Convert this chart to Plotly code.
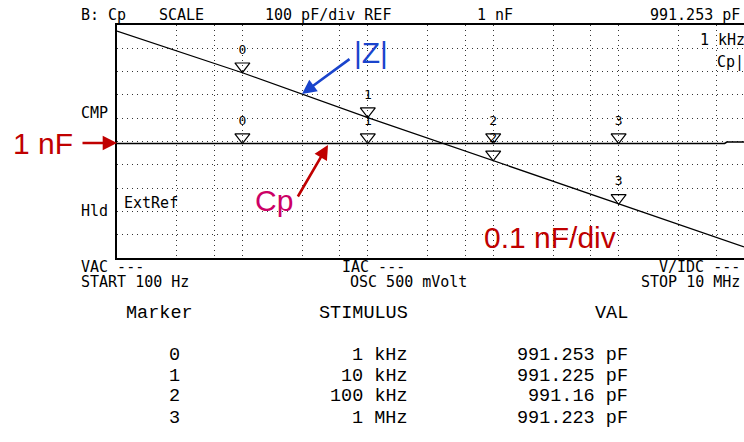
import plotly.graph_objects as go

# ---------------- data ----------------
cp_freq_hz = [100, 300, 1e3, 3e3, 1e4, 3e4, 1e5, 3e5, 1e6, 3e6, 7e6, 7.3e6, 1e7]
cp_pf = [991.30, 991.27, 991.253, 991.24, 991.225, 991.20, 991.16, 991.18, 991.223, 991.40, 991.5, 997.7, 997.7]

z_freq_hz = [100, 1e3, 1e4, 1e5, 1e6, 1e7]
z_ohm = [1.60e6, 1.75e5, 1.62e4, 1.63e3, 1.62e2, 1.70e1]

marker_labels = ["0", "1", "2", "3"]
marker_freq_hz = [1e3, 1e4, 1e5, 1e6]
marker_cp_pf = [991.253, 991.225, 991.16, 991.223]
marker_z_ohm = [1.75e5, 1.62e4, 1.63e3, 1.62e2]

table_stimulus = ["1 kHz", "10 kHz", "100 kHz", "1 MHz"]
table_val = ["991.253 pF", "991.225 pF", "991.16 pF", "991.223 pF"]

grid_freq_hz = [300, 600, 1e3, 3e3, 6e3, 1e4, 3e4, 6e4, 1e5, 3e5, 6e5, 1e6, 3e6, 6e6]

# ---------------- layout geometry ----------------
W, H = 744, 442
L, T, B = 117, 25, 258
R = 744
plot_w, plot_h = R - L, B - T
cp_range = [500, 1500]
z_log_range = [0.973, 6.343]

def px(x):
    return (x - L) / plot_w

def py(y):
    return (B - y) / plot_h

tri_size = 13
tri_px = tri_size / 2
cp_off = tri_px * (cp_range[1] - cp_range[0]) / plot_h
z_fac = 10 ** (tri_px * (z_log_range[1] - z_log_range[0]) / plot_h)

fig = go.Figure()

fig.add_trace(go.Scatter(x=cp_freq_hz, y=cp_pf, mode="lines",
                         line=dict(color="black", width=1.6), hoverinfo="skip"))
fig.add_trace(go.Scatter(x=z_freq_hz, y=z_ohm, mode="lines", yaxis="y2",
                         line=dict(color="black", width=1.2), hoverinfo="skip"))

mono = "DejaVu Sans Mono"
mk = dict(symbol="triangle-down-open", size=tri_size, color="black", line=dict(width=1.2))
fig.add_trace(go.Scatter(
    x=marker_freq_hz, y=[v + cp_off for v in marker_cp_pf], mode="markers+text",
    text=marker_labels, textposition="top center",
    textfont=dict(family=mono, size=13, color="black"),
    marker=mk, hoverinfo="skip"))
fig.add_trace(go.Scatter(
    x=marker_freq_hz, y=[v * z_fac for v in marker_z_ohm], mode="markers+text", yaxis="y2",
    text=marker_labels, textposition="top center",
    textfont=dict(family=mono, size=13, color="black"),
    marker=mk, hoverinfo="skip"))

ann = []

def txt(s, x, y, size=15, family=mono, color="black", xanchor="left", yanchor="middle"):
    ann.append(dict(text=s, x=px(x), y=py(y), xref="paper", yref="paper",
                    showarrow=False, xanchor=xanchor, yanchor=yanchor,
                    font=dict(family=family, size=size, color=color)))

# instrument header/footer text
txt("B: Cp", 79, 14.5)
txt("SCALE", 157, 14.5)
txt("100 pF/div REF", 263, 14.5)
txt("1 nF", 475, 14.5)
txt("991.253 pF", 648, 14.5)
txt("1 kHz", 698, 40)
txt("Cp|", 715, 62)
txt("CMP", 79, 113)
txt("Hld", 79, 211)
txt("ExtRef", 122, 203)
txt("VAC ---", 79, 267)
txt("START 100 Hz", 79, 282)
txt("IAC ---", 340, 267)
txt("OSC 500 mVolt", 348, 282)
txt("V/IDC ---", 657, 267)
txt("STOP 10 MHz", 639, 282)

# big callouts
sans = "Liberation Sans"
txt("1 nF", 43, 143, size=30, family=sans, color="#c00000", xanchor="center")
txt("|Z|", 371, 52, size=30, family=sans, color="#1a44cc", xanchor="center")
txt("Cp", 274, 200, size=30, family=sans, color="#cc0066", xanchor="center")
txt("0.1 nF/div", 550, 237, size=30, family=sans, color="#c00000", xanchor="center")

def arrow(tipx, tipy, tailx, taily, color):
    ann.append(dict(text="", x=px(tipx), y=py(tipy), xref="paper", yref="paper",
                    showarrow=True, ax=tailx - tipx, ay=taily - tipy,
                    arrowhead=2, arrowsize=1.1, arrowwidth=2.6, arrowcolor=color))

arrow(117, 143, 81, 143, "#c00000")
arrow(302, 94, 351, 58, "#1a44cc")
arrow(328, 145, 297, 198, "#c00000")

# marker table
tab = "Liberation Mono"
txt("Marker", 124, 313, size=18.5, family=tab)
txt("STIMULUS", 410, 313, size=18.5, family=tab, xanchor="right")
txt("VAL", 630, 313, size=18.5, family=tab, xanchor="right")
row_y = [355, 376, 397, 418]
for lab, st, val, yy in zip(marker_labels, table_stimulus, table_val, row_y):
    txt(lab, 182, yy, size=18.5, family=tab, xanchor="right")
    txt(st, 410, yy, size=18.5, family=tab, xanchor="right")
    txt(val, 630, yy, size=18.5, family=tab, xanchor="right")

fig.update_layout(
    width=W, height=H,
    margin=dict(l=L, r=W - R, t=T, b=H - B, pad=0),
    paper_bgcolor="white", plot_bgcolor="white",
    showlegend=False,
    hovermode=False,
    annotations=ann,
    xaxis=dict(type="log", range=[2, 7], tickmode="array", tickvals=grid_freq_hz,
               showticklabels=False, ticks="", showgrid=True, gridcolor="#333333",
               griddash="1px,4px", gridwidth=1, zeroline=False,
               showline=True, mirror=True, linecolor="black", linewidth=2),
    yaxis=dict(range=cp_range, dtick=100, tick0=500, showticklabels=False, ticks="",
               showgrid=True, gridcolor="#333333", griddash="1px,4px", gridwidth=1,
               zeroline=False, showline=True, mirror=False, linecolor="black", linewidth=2),
    yaxis2=dict(type="log", range=z_log_range, overlaying="y", showgrid=False,
                showticklabels=False, ticks="", zeroline=False, showline=False),
)

fig.write_html("out.html", config={"displayModeBar": False, "staticPlot": True},
               post_script="document.body.style.margin='0px';document.body.style.overflow='hidden';")
